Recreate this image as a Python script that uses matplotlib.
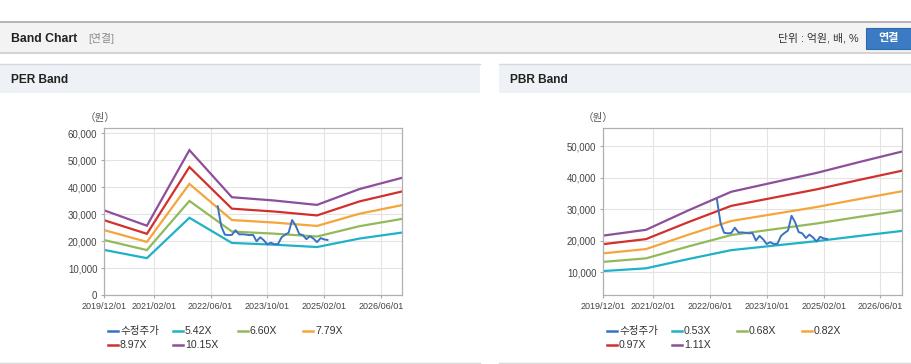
import numpy as np
import pandas as pd
import matplotlib
matplotlib.use('Agg')
import matplotlib.pyplot as plt
from matplotlib.patches import Rectangle

plt.rcParams['font.family'] = ['Liberation Sans', 'Noto Sans CJK KR']

# ---- data ----
band_dates = pd.to_datetime(['2019-12-01', '2020-12-01', '2021-12-01', '2022-12-01',
                             '2023-12-01', '2024-12-01', '2025-12-01', '2026-12-01'])

# PER band lines
per_542 = [16800, 13770, 28730, 19400, 18750, 17890, 21030, 23250]
per_660 = [20460, 16760, 34980, 23630, 22840, 21780, 25610, 28310]
per_779 = [24150, 19790, 41290, 27890, 26950, 25710, 30230, 33420]
per_897 = [27810, 22780, 47540, 32110, 31040, 29600, 34800, 38480]
per_1015 = [31470, 25780, 53800, 36340, 35120, 33500, 39380, 43540]
per_labels = ['5.42X', '6.60X', '7.79X', '8.97X', '10.15X']

# PBR band lines
pbr_053 = [10310, 11180, 14150, 16960, 18390, 19820, 21470, 23060]
pbr_068 = [13230, 14350, 18160, 21760, 23600, 25430, 27540, 29580]
pbr_082 = [15950, 17300, 21890, 26240, 28450, 30670, 33210, 35670]
pbr_097 = [18870, 20470, 25900, 31040, 33660, 36280, 39290, 42200]
pbr_111 = [21590, 23420, 29640, 35520, 38520, 41510, 44960, 48290]
pbr_labels = ['0.53X', '0.68X', '0.82X', '0.97X', '1.11X']

# adjusted price (수정주가), monthly
price_dates = pd.date_range('2022-08-01', '2025-03-01', freq='MS')
price = [33000, 25500, 22500, 22300, 22400, 24100, 22600, 22600,
         22500, 22300, 22400, 20000, 21500, 20400, 18900, 19500,
         18900, 19000, 21500, 22400, 23200, 27900, 25800, 22700,
         22300, 20800, 21900, 21000, 19700, 21200, 20700, 20500]

xtick_dates = pd.to_datetime(['2019-12-01', '2021-02-01', '2022-06-01',
                              '2023-10-01', '2025-02-01', '2026-06-01'])
xtick_labels = ['2019/12/01', '2021/02/01', '2022/06/01',
                '2023/10/01', '2025/02/01', '2026/06/01']
per_yticks = [0, 10000, 20000, 30000, 40000, 50000, 60000]
pbr_yticks = [10000, 20000, 30000, 40000, 50000]

band_colors = ['#1fb2c6', '#93b95a', '#f4a63c', '#d2302d', '#8d4f9c']
price_color = '#3a72c3'

W, H = 912, 364
fig = plt.figure(figsize=(W / 100, H / 100), dpi=100)

# background layer in pixel coordinates
bg = fig.add_axes([0, 0, 1, 1])
bg.set_xlim(0, W)
bg.set_ylim(H, 0)
bg.axis('off')

bg.plot([0, W], [22, 22], color='#a8a8a8', lw=1.2)
bg.add_patch(Rectangle((0, 23), W, 29, fc='#f3f3f3', ec='none'))
bg.plot([0, W], [52.5, 52.5], color='#d4d4d4', lw=1.5)
bg.text(11, 38.5, 'Band Chart', fontsize=8.8, fontweight='bold', color='#222222', va='center')
bg.text(88, 38.5, '[연결]', fontsize=7.8, color='#8a8a8a', va='center')
bg.text(859, 38.5, '단위 : 억원, 배, %', fontsize=7.8, color='#333333', va='center', ha='right')
bg.add_patch(Rectangle((866, 28), 46, 21, fc='#3a7bc3', ec='#2f6aad', lw=0.8))
bg.text(889, 38.5, '연결', fontsize=8, fontweight='bold', color='white', va='center', ha='center')

for px0, pw, title in [(0, 480, 'PER Band'), (499, 413, 'PBR Band')]:
    bg.plot([px0, px0 + pw], [63.5, 63.5], color='#d6d9dd', lw=1)
    bg.add_patch(Rectangle((px0, 64), pw, 29, fc='#eef1f5', ec='none'))
    bg.text(px0 + 11, 80, title, fontsize=8.6, fontweight='bold', color='#222222', va='center')
bg.plot([0, 480], [362.5, 362.5], color='#d8d8d8', lw=1)
bg.plot([499, W], [362.5, 362.5], color='#d8d8d8', lw=1)


def draw_panel(rect, bands, labels, ylim, yticks, unit_x, legend_x):
    ax = fig.add_axes(rect)
    ax.set_zorder(2)
    for vals, c in zip(bands, band_colors):
        ax.plot(band_dates, vals, color=c, lw=1.6, solid_joinstyle='miter')
    ax.plot(price_dates, price, color=price_color, lw=1.4)
    ax.set_xlim(pd.Timestamp('2019-12-01'), pd.Timestamp('2026-12-01'))
    ax.set_ylim(*ylim)
    ax.set_xticks(xtick_dates)
    ax.set_xticklabels(xtick_labels)
    ax.set_yticks(yticks)
    ax.set_yticklabels(['{:,}'.format(v) for v in yticks])
    ax.grid(True, color='#e3e3e3', lw=0.8)
    ax.set_axisbelow(True)
    ax.tick_params(labelcolor='#444444', color='#aaaaaa', length=2.5, width=0.8, pad=2.5)
    ax.tick_params(axis='x', labelsize=6.5)
    ax.tick_params(axis='y', labelsize=6.9)
    for s in ax.spines.values():
        s.set_color('#b0b0b0')
        s.set_linewidth(0.9)
    bg.text(unit_x, 118, '（원）', fontsize=7.6, color='#555555', ha='center', va='center')

    # legend, row by row
    items = [('수정주가', price_color)] + list(zip(labels, band_colors))
    for i, (lab, c) in enumerate(items):
        col, row = i % 4, i // 4
        x0 = legend_x + 65 * col
        y0 = 331 + 13.5 * row
        bg.plot([x0, x0 + 10], [y0, y0], color=c, lw=1.8)
        bg.text(x0 + 12, y0, lab, fontsize=7.6, color='#333333', va='center')
    return ax


draw_panel([104.3 / W, 1 - 295.3 / H, 297.7 / W, 167.3 / H],
           [per_542, per_660, per_779, per_897, per_1015], per_labels,
           (0, 62000), per_yticks, 100, 108)
draw_panel([603.3 / W, 1 - 295.3 / H, 298.4 / W, 167.3 / H],
           [pbr_053, pbr_068, pbr_082, pbr_097, pbr_111], pbr_labels,
           (2600, 55800), pbr_yticks, 598, 607)

fig.savefig('out.png', dpi=100)
